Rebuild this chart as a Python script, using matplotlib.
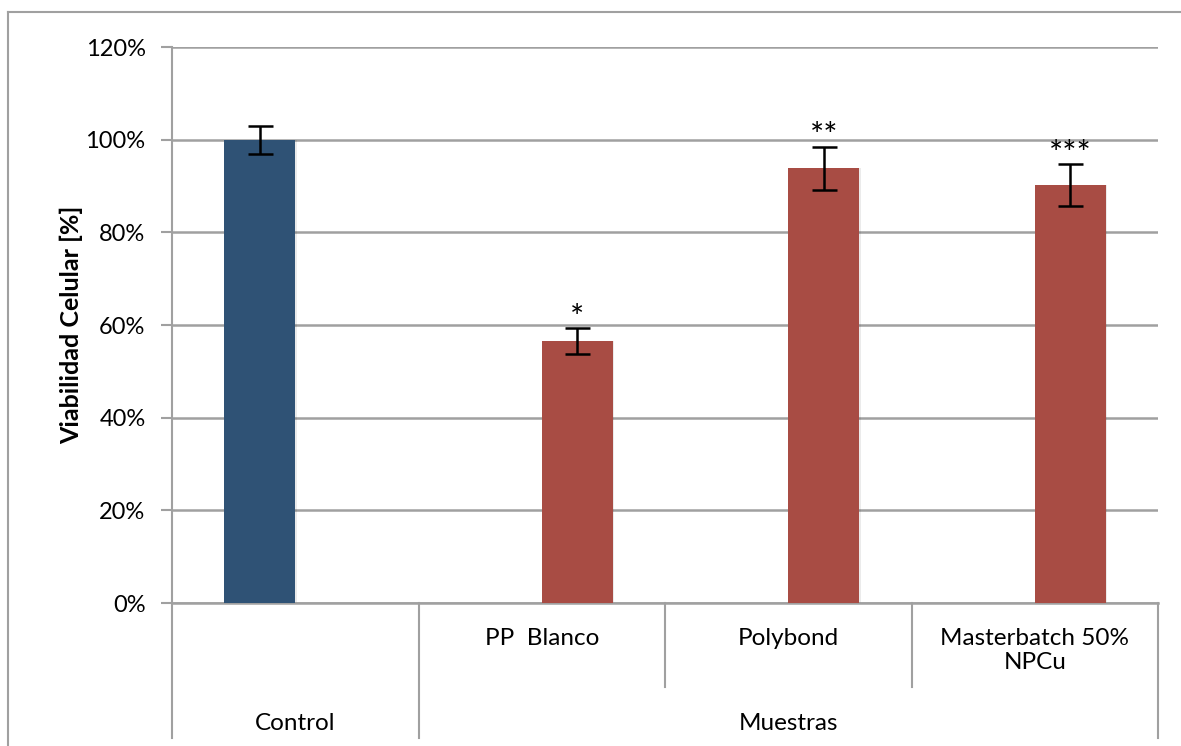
import matplotlib
matplotlib.use("Agg")
import matplotlib.pyplot as plt
from matplotlib.lines import Line2D
import matplotlib.transforms as mtransforms
from matplotlib.ticker import PercentFormatter

# datos
categorias = ["Control", "PP  Blanco", "Polybond", "Masterbatch 50%\nNPCu"]
grupos = ["Control", "Muestras"]
viabilidad = [100.0, 56.5, 93.8, 90.2]
error = [3.0, 2.8, 4.7, 4.5]
significancia = ["", "*", "**", "***"]
serie = [0, 1, 1, 1]  # 0 = control, 1 = muestras

AZUL = "#2F5275"
ROJO = "#A84C44"
GRIS = "#A0A0A0"

plt.rcParams['font.family'] = ['Lato', 'DejaVu Sans']

fig = plt.figure(figsize=(11.81, 7.46), dpi=100)
W, H = 1181, 746
ax = fig.add_axes([172 / W, 1 - 603 / H, (1158 - 172) / W, (603 - 47) / H])

ancho = 0.289
for i, v in enumerate(viabilidad):
    x = i - ancho / 2 if serie[i] == 0 else i + ancho / 2
    color = AZUL if serie[i] == 0 else ROJO
    # sombra suave
    ax.bar(x + 0.006, v, width=ancho, color="#000000", alpha=0.08, zorder=2)
    ax.bar(x, v, width=ancho, color=color, zorder=3)
    ax.errorbar(x, v, yerr=error[i], fmt="none", ecolor="black",
                elinewidth=1.8, capsize=9, capthick=1.8, zorder=4)
    if significancia[i]:
        ax.annotate(significancia[i], (x, v + error[i]), xytext=(0, -4),
                    textcoords="offset points", ha="center", va="bottom",
                    fontsize=24)

ax.set_xlim(-0.5, 3.5)
ax.set_ylim(0, 120)
ax.set_yticks(range(0, 121, 20))
ax.yaxis.set_major_formatter(PercentFormatter(decimals=0))
ax.tick_params(axis="y", length=8, width=1.5, color=GRIS, labelsize=17, pad=11)
ax.set_xticks([])
ax.grid(axis="y", color=GRIS, linewidth=1.8, zorder=0)
ax.set_axisbelow(True)
for s in ["top", "right"]:
    ax.spines[s].set_visible(False)
ax.spines["left"].set_color(GRIS)
ax.spines["left"].set_linewidth(1.5)
ax.spines["bottom"].set_color(GRIS)
ax.spines["bottom"].set_linewidth(1.8)
ax.set_ylabel("Viabilidad Celular [%]", fontsize=18, fontweight="bold", labelpad=2)

# eje de categorias en dos niveles
trans = mtransforms.blended_transform_factory(ax.transData, ax.transAxes)
y1 = -84 / 556
y2 = -135 / 556
for xb in [1.5, 2.5]:
    ax.plot([xb, xb], [0, y1], color=GRIS, lw=1.5, transform=trans, clip_on=False)
for xb in [-0.5, 0.5, 3.5]:
    ax.plot([xb, xb], [0, y2], color=GRIS, lw=1.5, transform=trans, clip_on=False)

for i, c in enumerate(categorias):
    if serie[i] == 1:
        ax.text(i, -25 / 556, c, transform=trans, ha="center", va="top",
                fontsize=17.5, linespacing=1.15)
ax.text(0, -120 / 556, grupos[0], transform=trans, ha="center", va="center", fontsize=17.5)
ax.text(2, -120 / 556, grupos[1], transform=trans, ha="center", va="center", fontsize=17.5)

# borde del area del grafico
fig.add_artist(Line2D([8 / W, 1], [1 - 12 / H, 1 - 12 / H], color=GRIS, lw=1.5))
fig.add_artist(Line2D([8 / W, 8 / W], [0, 1 - 12 / H], color=GRIS, lw=1.5))

fig.savefig("out.png", dpi=100)
